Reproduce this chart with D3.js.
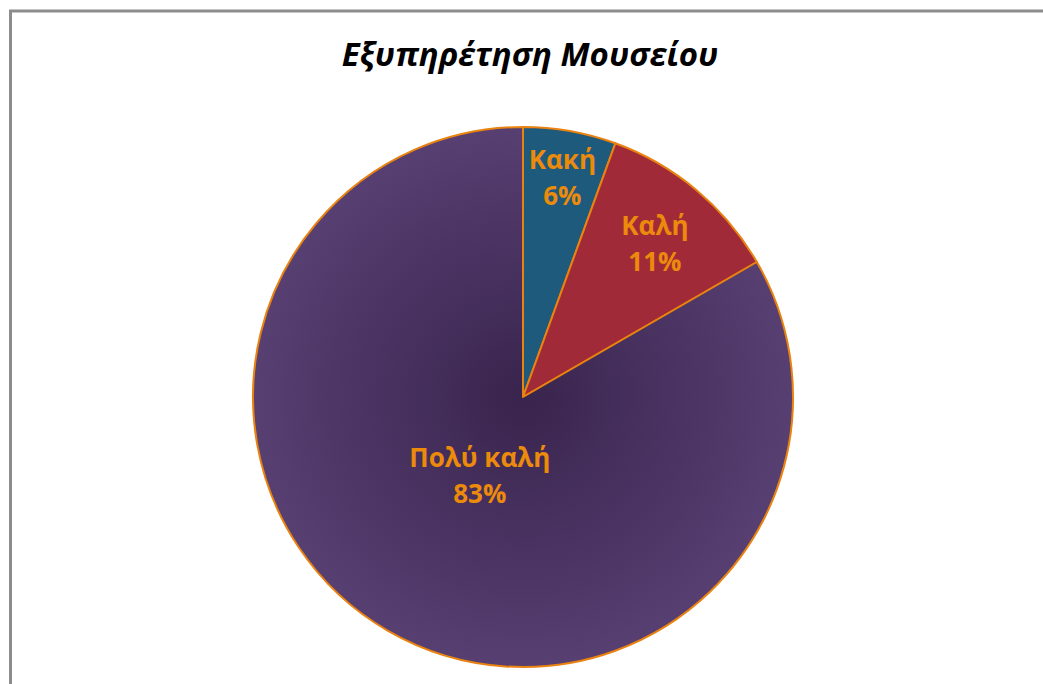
<!DOCTYPE html>
<html>
<head>
<meta charset="utf-8">
<script src="https://cdn.jsdelivr.net/npm/d3@7"></script>
<style>
  body { margin: 0; background: #fff; }
  text { font-family: "Open Sans", "Noto Sans", sans-serif; }
</style>
</head>
<body>
<div id="chart"></div>
<script>
var categories = ["Κακή", "Καλή", "Πολύ καλή"];
var counts = [1, 2, 15];
var percentLabels = ["6%", "11%", "83%"];

var width = 1043, height = 684;
var cx = 523, cy = 397, radius = 270;
var colors = ["#1d5a7b", "#a12a38", "#553e6f"];
// how far out each label sits, as a share of the radius
var labelFrac = [0.84, 0.76, 0.32];

var svg = d3.select("#chart")
  .append("svg")
  .attr("width", width)
  .attr("height", height);

var defs = svg.append("defs");
var grad = defs.append("radialGradient")
  .attr("id", "purpleGrad")
  .attr("gradientUnits", "userSpaceOnUse")
  .attr("cx", 0).attr("cy", 0).attr("r", radius);
grad.append("stop").attr("offset", "0%").attr("stop-color", "#39244d");
grad.append("stop").attr("offset", "100%").attr("stop-color", "#573f72");

// chart frame
svg.append("rect")
  .attr("x", 10.5)
  .attr("y", 11)
  .attr("width", width)
  .attr("height", height)
  .attr("fill", "none")
  .attr("stroke", "#8c8c8c")
  .attr("stroke-width", 3);

svg.append("text")
  .attr("x", 530)
  .attr("y", 66)
  .attr("text-anchor", "middle")
  .style("font-size", "33px")
  .style("font-weight", "bold")
  .style("font-style", "italic")
  .attr("fill", "#000")
  .text("Εξυπηρέτηση Μουσείου");

var pie = d3.pie().sort(null).value(function (d) { return d; });
var arcs = pie(counts);

var arc = d3.arc().innerRadius(0).outerRadius(radius);

var g = svg.append("g")
  .attr("transform", "translate(" + cx + "," + cy + ")");

g.selectAll("path")
  .data(arcs)
  .enter()
  .append("path")
  .attr("d", arc)
  .attr("fill", function (d, i) { return i === 2 ? "url(#purpleGrad)" : colors[i]; })
  .attr("stroke", "#e9820f")
  .attr("stroke-width", 2)
  .attr("stroke-linejoin", "round");

var labels = g.selectAll("g.lab")
  .data(arcs)
  .enter()
  .append("g")
  .attr("class", "lab")
  .attr("transform", function (d, i) {
    var r = radius * labelFrac[i];
    var a = (d.startAngle + d.endAngle) / 2;
    return "translate(" + (r * Math.sin(a)) + "," + (-r * Math.cos(a)) + ")";
  });

labels.append("text")
  .attr("text-anchor", "middle")
  .attr("y", -5)
  .style("font-size", "26px")
  .style("font-weight", "bold")
  .attr("fill", "#ec8a0c")
  .text(function (d, i) { return categories[i]; });

labels.append("text")
  .attr("text-anchor", "middle")
  .attr("y", 31)
  .style("font-size", "26px")
  .style("font-weight", "bold")
  .attr("fill", "#ec8a0c")
  .text(function (d, i) { return percentLabels[i]; });
</script>
</body>
</html>
